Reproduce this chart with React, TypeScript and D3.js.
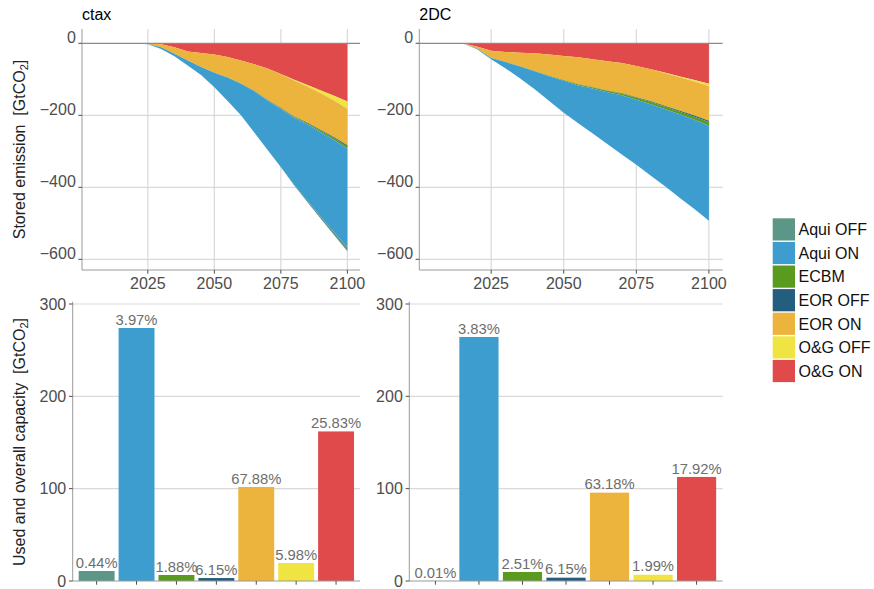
import React from "react";
import * as d3 from "d3";

// ---------------- data ----------------
const YEARS = [2005, 2010, 2015, 2020, 2025, 2030, 2035, 2040, 2045, 2050, 2055, 2060, 2065, 2070, 2075, 2080, 2085, 2090, 2095, 2100];

const CATEGORIES = ["Aqui OFF", "Aqui ON", "ECBM", "EOR OFF", "EOR ON", "O&G OFF", "O&G ON"];
const STACK_ORDER = ["O&G ON", "O&G OFF", "EOR ON", "EOR OFF", "ECBM", "Aqui ON", "Aqui OFF"];
const COLORS = ["#5c9687", "#3d9dcf", "#5a9a1e", "#235e7e", "#edb43d", "#f0e442", "#e04a4b"];

// cumulative stored emission (GtCO2), ctax scenario
const CTAX_AQUI_OFF = [0, 0, 0, 0, 0, 0, 0, 0, 0, 0, 0, 0, 0, 0.5, 1, 2, 3.5, 5.5, 8, 10.8];
const CTAX_AQUI_ON = [0, 0, 0, 0, 0.5, 5, 7, 14, 22, 40, 65, 88, 115, 137, 161, 186, 212, 235, 256, 274];
const CTAX_ECBM = [0, 0, 0, 0, 0, 0, 0, 0, 0, 0, 0, 0.2, 0.6, 1, 1.6, 2.3, 3.1, 4, 5.2, 6.5];
const CTAX_EOR_OFF = [0, 0, 0, 0, 0, 0, 0, 0, 0, 0, 0, 0, 0.3, 0.6, 1, 1.4, 1.8, 2.3, 2.7, 3.2];
const CTAX_EOR_ON = [0, 0, 0, 0, 1.5, 8, 18, 25, 39, 51, 57, 64, 74, 87, 94.5, 100, 101, 101.5, 101.8, 101.8];
const CTAX_OG_OFF = [0, 0, 0, 0, 0, 0, 0, 0, 0, 0, 0, 0, 0, 0, 0.5, 2, 4, 8, 13, 19.5];
const CTAX_OG_ON = [0, 0, 0, 0, 0.5, 3, 11, 23, 27, 31, 38, 48, 58, 70, 85, 101, 116, 131, 146, 162];

// 2DC scenario
const C2DC_AQUI_OFF = [0, 0, 0, 0, 0, 0, 0, 0, 0, 0, 0, 0, 0, 0, 0, 0, 0, 0.02, 0.03, 0.05];
const C2DC_AQUI_ON = [0, 0, 0, 2, 3, 18, 33.7, 50, 69, 89, 105, 125, 144, 164, 181, 199, 215, 232, 248, 264.3];
const C2DC_ECBM = [0, 0, 0, 0, 0, 0, 0.3, 0.8, 1.3, 2, 2.6, 3.2, 3.8, 4.4, 5, 5.7, 6.5, 7.4, 8.5, 9.75];
const C2DC_EOR_OFF = [0, 0, 0, 0, 0, 0, 0, 0, 0, 0.2, 0.4, 0.6, 0.9, 1.2, 1.6, 2, 2.4, 2.8, 3.2, 3.6];
const C2DC_EOR_ON = [0, 0, 0, 5, 20, 28, 38, 49, 59, 67, 75, 78, 81, 84, 87, 89, 91, 93, 94.5, 95.7];
const C2DC_OG_OFF = [0, 0, 0, 0, 0, 0, 0, 0, 0, 0, 0, 0, 0, 0, 0, 0.3, 1, 2.2, 4, 6.8];
const C2DC_OG_ON = [0, 0, 0, 9, 21, 24, 26, 28, 31, 35, 39, 44, 50, 55, 63, 72, 82, 92, 102, 112.7];

// used capacity (bars) and share of overall capacity
const BAR_CTAX = [10.8, 274, 6.5, 3.2, 101.8, 19.5, 162];
const BAR_2DC = [0.05, 264.3, 9.75, 3.6, 95.7, 6.8, 112.7];
const PCT_CTAX = ["0.44%", "3.97%", "1.88%", "6.15%", "67.88%", "5.98%", "25.83%"];
const PCT_2DC = ["0.01%", "3.83%", "2.51%", "6.15%", "63.18%", "1.99%", "17.92%"];

const X_TICKS = [2025, 2050, 2075, 2100];
const Y_TICKS_TOP = [0, -200, -400, -600];
const Y_TICKS_BOTTOM = [0, 100, 200, 300];
const TITLES = ["ctax", "2DC"];

// ---------------- helpers ----------------
const FONT = "'Liberation Sans', Arial, Helvetica, sans-serif";
const GRID = "#d9d9d9";
const AXIS = "#9a9a9a";
const TICK = "#4d4d4d";
const LABEL = "#4d4d4d";

function buildRows(series: number[][]) {
  return YEARS.map((yr, i) => {
    const row: any = { year: yr };
    CATEGORIES.forEach((c, k) => (row[c] = series[k][i]));
    return row;
  });
}

const ROWS_CTAX = buildRows([CTAX_AQUI_OFF, CTAX_AQUI_ON, CTAX_ECBM, CTAX_EOR_OFF, CTAX_EOR_ON, CTAX_OG_OFF, CTAX_OG_ON]);
const ROWS_2DC = buildRows([C2DC_AQUI_OFF, C2DC_AQUI_ON, C2DC_ECBM, C2DC_EOR_OFF, C2DC_EOR_ON, C2DC_OG_OFF, C2DC_OG_ON]);

type Box = { x0: number; x1: number; y0: number; y1: number };

function AreaPanel({ rows, box, title }: { rows: any[]; box: Box; title: string }) {
  const x = d3.scaleLinear().domain([2000.25, 2104.75]).range([box.x0, box.x1]);
  const y = d3.scaleLinear().domain([-629.7, 39.7]).range([box.y1, box.y0]);
  const stack = d3
    .stack<any>()
    .keys(STACK_ORDER)
    .value((d, key) => -d[key])
    .order(d3.stackOrderNone)
    .offset(d3.stackOffsetNone);
  const layers = stack(rows);
  const area = d3
    .area<any>()
    .x((d) => x(d.data.year))
    .y0((d) => y(d[0]))
    .y1((d) => y(d[1]));
  return (
    <g>
      <text x={box.x0} y={20} fontSize={16} fill="#000" fontFamily={FONT}>
        {title}
      </text>
      {Y_TICKS_TOP.filter((t) => t !== 0).map((t) => (
        <line key={"gy" + t} x1={box.x0} x2={box.x1} y1={y(t)} y2={y(t)} stroke={GRID} strokeWidth={1.2} />
      ))}
      {X_TICKS.map((t) => (
        <line key={"gx" + t} x1={x(t)} x2={x(t)} y1={box.y0} y2={box.y1} stroke={GRID} strokeWidth={1.2} />
      ))}
      {layers.map((l) => (
        <path key={l.key} d={area(l) || ""} fill={COLORS[CATEGORIES.indexOf(l.key)]} stroke="none" />
      ))}
      <line x1={box.x0} x2={box.x1} y1={y(0)} y2={y(0)} stroke="#8a8a8a" strokeWidth={1.3} />
      <line x1={box.x0} x2={box.x0} y1={box.y0} y2={box.y1} stroke={AXIS} strokeWidth={1} />
      <line x1={box.x0} x2={box.x1} y1={box.y1} y2={box.y1} stroke={AXIS} strokeWidth={1} />
      {Y_TICKS_TOP.map((t) => (
        <g key={"ty" + t}>
          <line x1={box.x0 - 3.7} x2={box.x0} y1={y(t)} y2={y(t)} stroke={TICK} strokeWidth={1} />
          <text x={box.x0 - 6.2} y={y(t) - 0.6} textAnchor="end" fontSize={16} fill={LABEL} fontFamily={FONT}>
            {t < 0 ? "\u2212" + Math.abs(t) : String(t)}
          </text>
        </g>
      ))}
      {X_TICKS.map((t) => (
        <g key={"tx" + t}>
          <line x1={x(t)} x2={x(t)} y1={box.y1} y2={box.y1 + 3.7} stroke={TICK} strokeWidth={1} />
          <text x={x(t)} y={289} textAnchor="middle" fontSize={16} fill={LABEL} fontFamily={FONT}>
            {t}
          </text>
        </g>
      ))}
    </g>
  );
}

function BarPanel({ values, labels, box }: { values: number[]; labels: string[]; box: Box }) {
  const x = d3.scaleBand().domain(CATEGORIES).range([box.x0, box.x1]).paddingInner(0.1).paddingOuter(0.15);
  const y = d3.scaleLinear().domain([0, 302.5]).range([box.y1, box.y0]);
  return (
    <g>
      {Y_TICKS_BOTTOM.filter((t) => t !== 0).map((t) => (
        <line key={"gy" + t} x1={box.x0} x2={box.x1} y1={y(t)} y2={y(t)} stroke={GRID} strokeWidth={1.2} />
      ))}
      {CATEGORIES.map((c, i) => (
        <rect
          key={c}
          x={x(c)}
          y={y(values[i])}
          width={x.bandwidth()}
          height={Math.max(0, y(0) - y(values[i]))}
          fill={COLORS[i]}
        />
      ))}
      {CATEGORIES.map((c, i) => (
        <text
          key={"l" + c}
          x={(x(c) as number) + x.bandwidth() / 2}
          y={y(values[i]) - 3.3}
          textAnchor="middle"
          fontSize={14.8}
          fill="#6e6e6e"
          fontFamily={FONT}
        >
          {labels[i]}
        </text>
      ))}
      <line x1={box.x0} x2={box.x0} y1={box.y0} y2={box.y1} stroke={AXIS} strokeWidth={1} />
      <line x1={box.x0} x2={box.x1} y1={box.y1} y2={box.y1} stroke={AXIS} strokeWidth={1} />
      {Y_TICKS_BOTTOM.map((t) => (
        <g key={"ty" + t}>
          <line x1={box.x0 - 3.7} x2={box.x0} y1={y(t)} y2={y(t)} stroke={TICK} strokeWidth={1} />
          <text x={box.x0 - 6.5} y={y(t)} dy="0.36em" textAnchor="end" fontSize={16} fill={LABEL} fontFamily={FONT}>
            {t}
          </text>
        </g>
      ))}
      {CATEGORIES.map((c) => (
        <line
          key={"tx" + c}
          x1={(x(c) as number) + x.bandwidth() / 2}
          x2={(x(c) as number) + x.bandwidth() / 2}
          y1={box.y1}
          y2={box.y1 + 3.7}
          stroke={TICK}
          strokeWidth={1}
        />
      ))}
    </g>
  );
}

function YTitle({ cy, main }: { cy: number; main: string }) {
  return (
    <text
      transform={`translate(25,${cy}) rotate(-90)`}
      textAnchor="middle"
      fontSize={16}
      fill="#222"
      fontFamily={FONT}
      xmlSpace="preserve"
      style={{ whiteSpace: "pre" }}
    >
      {main}
      <tspan fontSize={11} dy={3}>2</tspan>
      <tspan dy={-3}>]</tspan>
    </text>
  );
}

export default function App() {
  React.useEffect(() => {
    document.body.style.margin = "0";
  }, []);
  const TL: Box = { x0: 82, x1: 360, y0: 29, y1: 270 };
  const TR: Box = { x0: 419.3, x1: 722.7, y0: 29, y1: 270 };
  const BL: Box = { x0: 72.7, x1: 360, y0: 301.7, y1: 581 };
  const BR: Box = { x0: 409.3, x1: 722.7, y0: 301.7, y1: 581 };
  return (
    <svg
      width={874}
      height={589}
      viewBox="0 0 874 589"
      style={{ position: "absolute", left: 0, top: 0, background: "#fff" }}
      xmlns="http://www.w3.org/2000/svg"
    >
      <rect width={874} height={589} fill="#fff" />
      <AreaPanel rows={ROWS_CTAX} box={TL} title={TITLES[0]} />
      <AreaPanel rows={ROWS_2DC} box={TR} title={TITLES[1]} />
      <BarPanel values={BAR_CTAX} labels={PCT_CTAX} box={BL} />
      <BarPanel values={BAR_2DC} labels={PCT_2DC} box={BR} />
      <YTitle cy={149.5} main={"Stored emission  [GtCO"} />
      <YTitle cy={442} main={"Used and overall capacity  [GtCO"} />
      <g>
        {CATEGORIES.map((c, i) => (
          <g key={c}>
            <rect x={772.7} y={218.3 + i * 23.6} width={22.3} height={22.2} fill={COLORS[i]} />
            <text
              x={798.5}
              y={218.3 + i * 23.6 + 11.1}
              dy="0.36em"
              fontSize={16}
              fill="#111"
              fontFamily={FONT}
            >
              {c}
            </text>
          </g>
        ))}
      </g>
    </svg>
  );
}
